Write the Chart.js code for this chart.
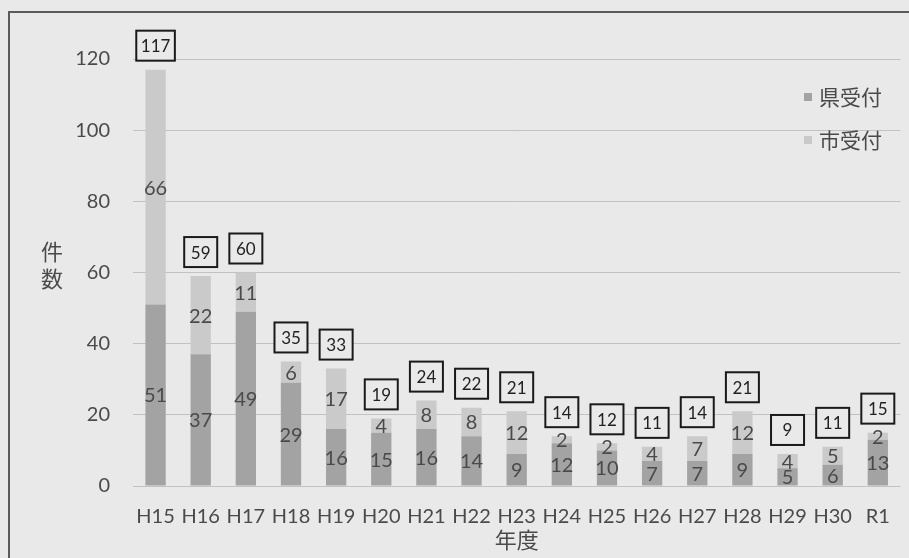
<!DOCTYPE html>
<html lang="ja">
<head>
<meta charset="utf-8">
<title>件数 年度別</title>
<script src="https://cdn.jsdelivr.net/npm/chart.js@4/dist/chart.umd.min.js"></script>
<style>
    html, body { margin: 0; padding: 0; background: #e9e9e9; }
    #wrap { width: 909px; height: 558px; position: relative; }
</style>
</head>
<body>
<div id="wrap"><canvas id="mainChart" width="909" height="558"></canvas></div>
<script>
// --- Data ---
const years = ['H15', 'H16', 'H17', 'H18', 'H19', 'H20', 'H21', 'H22', 'H23', 'H24', 'H25', 'H26', 'H27', 'H28', 'H29', 'H30', 'R1'];
const prefCounts = [51, 37, 49, 29, 16, 15, 16, 14, 9, 12, 10, 7, 7, 9, 5, 6, 13]; // 県受付
const cityCounts = [66, 22, 11, 6, 17, 4, 8, 8, 12, 2, 2, 4, 7, 12, 4, 5, 2];      // 市受付
const yTicks = [0, 20, 40, 60, 80, 100, 120];

// --- Configuration ---
const CONFIG = {
    bg: '#e9e9e9',
    prefColor: '#a3a3a3',
    cityColor: '#cacaca',
    textColor: '#4a4a4a',
    gridColor: '#c2c2c2',
    latin: 'Lato, "Open Sans", sans-serif',
    cjk: '"Noto Sans CJK JP", sans-serif'
};

const totals = years.map((_, i) => prefCounts[i] + cityCounts[i]);

// --- Plugins ---
const framePlugin = {
    id: 'frame',
    beforeDraw(chart) {
        const ctx = chart.ctx;
        ctx.save();
        ctx.fillStyle = CONFIG.bg;
        ctx.fillRect(0, 0, chart.width, chart.height);
        ctx.strokeStyle = '#5a5a5a';
        ctx.lineWidth = 2;
        ctx.beginPath();
        ctx.moveTo(9, chart.height);
        ctx.lineTo(9, 12);
        ctx.lineTo(chart.width, 12);
        ctx.stroke();
        ctx.restore();
    }
};

const labelPlugin = {
    id: 'segLabels',
    afterDatasetsDraw(chart) {
        const ctx = chart.ctx;
        const yScale = chart.scales.y;
        ctx.save();
        ctx.textAlign = 'center';
        ctx.textBaseline = 'middle';

        // Segment values
        ctx.font = '20px ' + CONFIG.latin;
        ctx.fillStyle = CONFIG.textColor;
        chart.data.datasets.forEach((ds, di) => {
            const meta = chart.getDatasetMeta(di);
            meta.data.forEach((bar, i) => {
                const mid = (bar.y + bar.base) / 2;
                ctx.fillText(String(ds.data[i]), bar.x, mid + 1);
            });
        });

        // Boxed totals above each bar
        ctx.font = '17px ' + CONFIG.latin;
        const meta = chart.getDatasetMeta(0);
        totals.forEach((t, i) => {
            const x = meta.data[i].x;
            const cy = yScale.getPixelForValue(t) - 24;
            const txt = String(t);
            const w = Math.max(33, ctx.measureText(txt).width + 9);
            const h = 30;
            ctx.fillStyle = CONFIG.bg;
            ctx.fillRect(x - w / 2, cy - h / 2, w, h);
            ctx.strokeStyle = '#1a1a1a';
            ctx.lineWidth = 2;
            ctx.strokeRect(x - w / 2, cy - h / 2, w, h);
            ctx.fillStyle = '#222';
            ctx.fillText(txt, x, cy + 1);
        });

        // Axis titles
        ctx.fillStyle = CONFIG.textColor;
        ctx.font = '22px ' + CONFIG.cjk;
        ctx.fillText('件', 52, 252);
        ctx.fillText('数', 52, 279);
        ctx.fillText('年度', (chart.chartArea.left + chart.chartArea.right) / 2, 540);

        // Legend
        const items = [
            { text: '県受付', color: CONFIG.prefColor, y: 97 },
            { text: '市受付', color: CONFIG.cityColor, y: 140 }
        ];
        ctx.textAlign = 'left';
        ctx.font = '21px ' + CONFIG.cjk;
        items.forEach(it => {
            ctx.fillStyle = it.color;
            ctx.fillRect(804, it.y - 4, 8, 8);
            ctx.fillStyle = CONFIG.textColor;
            ctx.fillText(it.text, 819, it.y);
        });
        ctx.restore();
    }
};

// --- Chart ---
const ctx = document.getElementById('mainChart').getContext('2d');
new Chart(ctx, {
    type: 'bar',
    data: {
        labels: years,
        datasets: [
            { label: '県受付', data: prefCounts, backgroundColor: CONFIG.prefColor },
            { label: '市受付', data: cityCounts, backgroundColor: CONFIG.cityColor }
        ]
    },
    options: {
        responsive: false,
        animation: false,
        layout: { padding: { top: 59, right: 4, left: 0, bottom: 0 } },
        plugins: { legend: { display: false }, tooltip: { enabled: false } },
        datasets: { bar: { categoryPercentage: 1, barPercentage: 0.45 } },
        scales: {
            x: {
                stacked: true,
                grid: { display: false, drawTicks: false },
                border: { display: false },
                ticks: { color: CONFIG.textColor, font: { family: CONFIG.latin, size: 20 }, padding: 19, maxRotation: 0, autoSkip: false },
                afterFit(scale) { scale.height = 72; }
            },
            y: {
                stacked: true,
                min: 0,
                max: 120,
                afterBuildTicks(scale) { scale.ticks = yTicks.map(v => ({ value: v })); },
                grid: { color: CONFIG.gridColor, drawTicks: false },
                border: { display: false },
                ticks: { color: CONFIG.textColor, font: { family: CONFIG.latin, size: 20 }, padding: 23 },
                afterFit(scale) { scale.width = 133; }
            }
        }
    },
    plugins: [framePlugin, labelPlugin]
});
</script>
</body>
</html>
